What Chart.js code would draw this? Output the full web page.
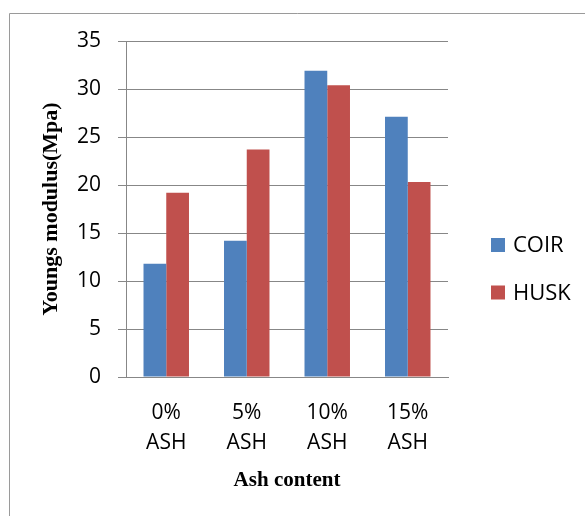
<!DOCTYPE html>
<html>
<head>
<meta charset="utf-8">
<script src="https://cdn.jsdelivr.net/npm/chart.js@4/dist/chart.umd.min.js"></script>
<style>
  html, body { margin: 0; padding: 0; background: #ffffff; }
  #wrap { position: relative; width: 585px; height: 516px; }
</style>
</head>
<body>
<div id="wrap"><canvas id="c" width="585" height="516"></canvas></div>
<script>
// ---- data ----
const categories = [["0%", "ASH"], ["5%", "ASH"], ["10%", "ASH"], ["15%", "ASH"]];
const seriesNames = ["COIR", "HUSK"];
const coirValues = [11.8, 14.2, 31.9, 27.1];
const huskValues = [19.2, 23.7, 30.4, 20.3];
const yTicks = [0, 5, 10, 15, 20, 25, 30, 35];
const yTitle = "Youngs modulus(Mpa)";
const xTitle = "Ash content";

const BLUE = "#4F81BD";
const RED = "#C0504D";
const GRID = "#878787";
const SANS = "'Open Sans', 'Noto Sans', sans-serif";
const SERIF = "'Liberation Serif', 'DejaVu Serif', serif";

const framePlugin = {
  id: "frame",
  beforeDraw(chart) {
    const ctx = chart.ctx;
    ctx.save();
    ctx.strokeStyle = "#9a9a9a";
    ctx.lineWidth = 1;
    ctx.beginPath();
    ctx.moveTo(9.5, chart.height);
    ctx.lineTo(9.5, 13.5);
    ctx.lineTo(chart.width, 13.5);
    ctx.stroke();
    ctx.restore();
  }
};

const legendPlugin = {
  id: "sideLegend",
  afterDraw(chart) {
    const ctx = chart.ctx;
    const area = chart.chartArea;
    ctx.save();
    ctx.font = "22px " + SANS;
    ctx.textBaseline = "middle";
    ctx.textAlign = "left";
    chart.data.datasets.forEach((ds, i) => {
      const cy = 245 + i * 47.5;
      const bx = area.right + 43;
      ctx.fillStyle = ds.backgroundColor;
      ctx.fillRect(bx, cy - 7, 14, 14);
      ctx.fillStyle = "#000000";
      ctx.fillText(ds.label, bx + 22, cy + 1);
    });
    ctx.restore();
  }
};

new Chart(document.getElementById("c"), {
  type: "bar",
  data: {
    labels: categories,
    datasets: [
      { label: seriesNames[0], data: coirValues, backgroundColor: BLUE, borderWidth: 0 },
      { label: seriesNames[1], data: huskValues, backgroundColor: RED, borderWidth: 0 }
    ]
  },
  options: {
    responsive: false,
    animation: false,
    devicePixelRatio: 1,
    layout: { padding: { left: 9, top: 41, right: 137, bottom: 0 } },
    datasets: { bar: { barPercentage: 1.0, categoryPercentage: 0.565 } },
    plugins: {
      legend: { display: false },
      tooltip: { enabled: false },
      title: { display: false }
    },
    scales: {
      x: {
        grid: { display: false, drawTicks: false },
        border: { display: true, color: GRID, width: 1 },
        ticks: {
          color: "#000000",
          font: { family: SANS, size: 21, lineHeight: 1.43 },
          padding: 21,
          maxRotation: 0,
          autoSkip: false
        },
        title: {
          display: true,
          text: xTitle,
          color: "#000000",
          font: { family: SERIF, size: 21, weight: "bold", lineHeight: 1.2 },
          padding: { top: 0, bottom: 23 }
        },
        afterFit(scale) { scale.height = 139; }
      },
      y: {
        min: 0,
        max: 35,
        afterBuildTicks(scale) { scale.ticks = yTicks.map(v => ({ value: v })); },
        grid: { color: GRID, lineWidth: 1, tickLength: 8, drawTicks: true },
        border: { display: true, color: GRID, width: 1 },
        ticks: {
          color: "#000000",
          font: { family: SANS, size: 21 },
          padding: 17
        },
        title: {
          display: true,
          text: yTitle,
          color: "#000000",
          font: { family: SERIF, size: 22, weight: "bold", lineHeight: 1.2 },
          padding: { top: 29, bottom: 0 }
        },
        afterFit(scale) { scale.width = 117; }
      }
    }
  },
  plugins: [framePlugin, legendPlugin]
});
</script>
</body>
</html>
